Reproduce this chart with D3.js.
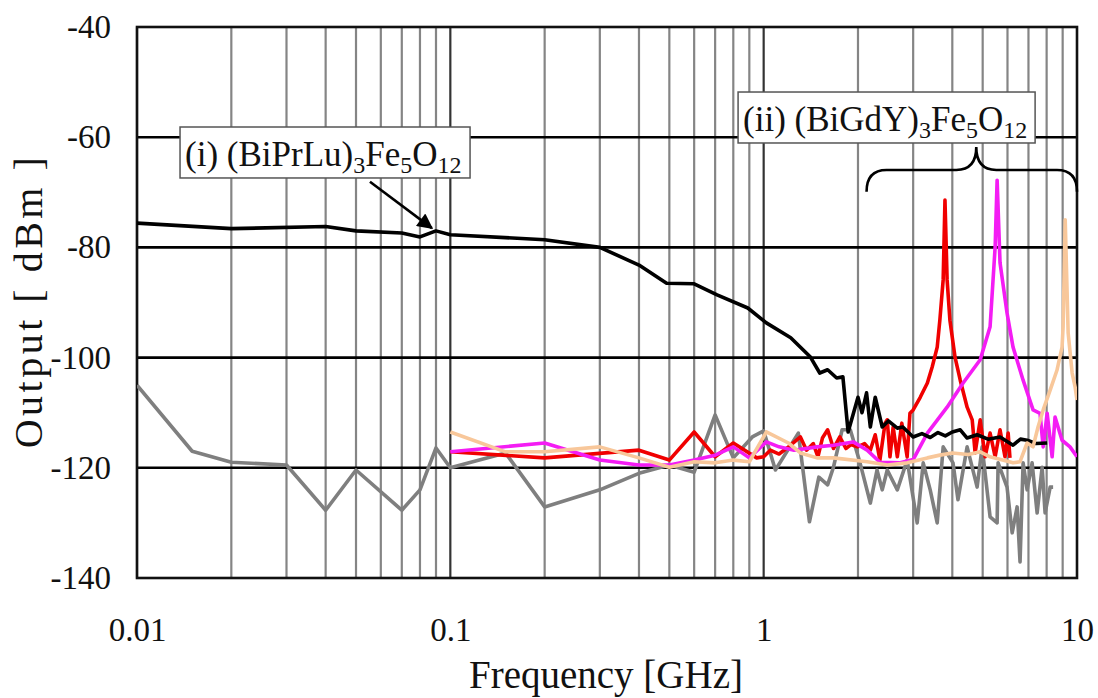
<!DOCTYPE html>
<html>
<head>
<meta charset="utf-8">
<script src="https://cdn.jsdelivr.net/npm/d3@7"></script>
<style>
  body { margin: 0; background: #fff; }
  svg text { font-family: "Liberation Serif", "Times New Roman", serif; fill: #111; }
</style>
</head>
<body>
<div id="chart"></div>
<script>
// frequency in GHz, output in dBm
const grayFreq = [0.01, 0.015, 0.02, 0.03, 0.04, 0.05, 0.07, 0.08, 0.09, 0.1, 0.15, 0.2, 0.3, 0.4, 0.5, 0.6, 0.7, 0.8, 0.92, 1.0,
  1.09, 1.29, 1.40, 1.50, 1.60, 1.67, 1.78, 1.89, 2.03, 2.19, 2.30, 2.39, 2.48, 2.67, 2.87, 3.09, 3.23, 3.40, 3.58, 3.74,
  4.02, 4.17, 4.46, 4.80, 4.98, 5.28, 5.56, 5.60, 5.98, 6.21, 6.44, 6.58, 6.73, 6.93, 7.19, 7.46, 7.74, 7.91, 8.21, 8.39];
const grayDb = [-105, -117, -119, -119.5, -127.7, -120.4, -127.7, -124, -116.4, -120, -117.3, -127.1, -124, -121, -119.5, -120.8, -110.4, -118.2, -114.4, -113.3,
  -120.4, -113.7, -129.8, -121.7, -123.1, -119.9, -113.1, -113.1, -119.1, -126.4, -120.4, -124, -120.4, -124, -118.6, -130, -119.1, -124, -130, -116.2,
  -119.1, -125.8, -116.2, -123.5, -116.2, -128.9, -130, -119.1, -123.5, -131.8, -127.1, -137.1, -119.1, -124, -119.1, -128.2, -119.9, -128.2, -123.5, -123.5];

const blackFreq = [0.01, 0.02, 0.04, 0.05, 0.07, 0.08, 0.09, 0.1, 0.2, 0.3, 0.4, 0.49, 0.6, 0.71, 0.89, 1.02, 1.22, 1.41, 1.51, 1.60,
  1.71, 1.79, 1.86, 2.0, 2.06, 2.13, 2.19, 2.27, 2.39, 2.50, 2.67, 2.78, 3.0, 3.2, 3.4, 3.6, 3.8, 4.0, 4.24, 4.46,
  4.8, 5.2, 5.68, 6.25, 6.6, 6.93, 7.4, 8.03];
const blackDb = [-75.6, -76.6, -76.2, -77.0, -77.4, -78.1, -77.0, -77.7, -78.6, -80.0, -83.2, -86.5, -86.6, -88.6, -91.0, -93.7, -96.4, -99.9, -102.8, -102.2,
  -103.7, -103.5, -113.5, -107.2, -110, -106.4, -112.6, -107.2, -112.6, -111.5, -112.8, -112.6, -114.4, -113.8, -114.5, -113.6, -114.2, -113.5, -113.1, -114.6,
  -114.0, -114.8, -114.4, -115.9, -114.8, -115, -115.6, -115.5];

const redFreq = [0.1, 0.2, 0.4, 0.5, 0.6, 0.7, 0.8, 0.95, 1.0, 1.05, 1.12, 1.2, 1.31, 1.37, 1.44, 1.49, 1.54, 1.60, 1.67, 1.75,
  1.83, 1.90, 1.99, 2.1, 2.19, 2.27, 2.35, 2.44, 2.48, 2.53, 2.59, 2.67, 2.76, 2.87, 2.93, 3.0, 3.16, 3.33, 3.45, 3.58,
  3.65, 3.74, 3.79, 3.85, 3.93, 4.08, 4.24, 4.46, 4.63, 4.73, 4.91, 5.09, 5.28, 5.48, 5.68, 5.89, 6.03, 6.11];
const redDb = [-117.1, -118.2, -116.8, -118.6, -113.5, -118, -115.5, -118.2, -118.0, -116.8, -117.5, -116.2, -114.4, -116.8, -115.6, -118.0, -114.6, -113.1, -116.5, -114.4,
  -116.5, -115.8, -116.2, -115.6, -116.8, -114.0, -118.6, -111.9, -111.3, -118.0, -112.6, -118.0, -111.9, -118.0, -110.1, -109.5, -107.2, -104.6, -101.7, -98.1,
  -93.2, -85.9, -71.4, -85.9, -93.2, -99.9, -104.1, -109.0, -111.3, -117.3, -111.3, -118.0, -113.7, -118.0, -113.1, -118.0, -113.7, -118.2];

const magentaFreq = [0.1, 0.2, 0.3, 0.4, 0.5, 0.6, 0.7, 0.8, 0.9, 1.02, 1.12, 1.25, 1.48, 1.67, 1.93, 2.14, 2.35, 2.73, 3.0, 3.33,
  3.85, 4.33, 4.91, 5.28, 5.48, 5.56, 5.68, 5.98, 6.25, 6.73, 7.24, 7.62, 7.80, 8.03, 8.33, 8.51, 8.96, 9.50, 10];
const magentaDb = [-117.1, -115.5, -118.6, -119.5, -119.5, -118.6, -117.7, -116.2, -118.2, -115.3, -116.2, -116.8, -116.2, -115.9, -115.3, -116.8, -119.0, -119.1, -118.5, -113.7,
  -109.0, -104.6, -100.4, -94.4, -79.9, -67.8, -82.8, -91.9, -98.1, -104.1, -109.5, -110.1, -116.2, -110.1, -118.0, -110.8, -115.0, -116.2, -118];

const peachFreq = [0.1, 0.15, 0.2, 0.3, 0.4, 0.5, 0.6, 0.7, 0.8, 0.9, 1.02, 1.2, 1.31, 1.48, 1.67, 2.14, 2.48, 2.87, 3.33, 3.65,
  4.0, 4.5, 4.91, 5.28, 6.25, 6.58, 6.93, 7.24, 7.51, 7.80, 8.21, 8.63, 8.96, 9.03, 9.17, 9.37, 9.65, 9.86, 10];
const peachDb = [-113.5, -117.1, -117.1, -116.2, -118.2, -119.9, -118.9, -119.1, -118.6, -118.9, -113.5, -115.5, -117.3, -118.2, -118.2, -118.9, -119.5, -119.1, -118.2, -117.7,
  -117.3, -117.6, -117.1, -118, -119.1, -118.9, -115.5, -116.2, -112.6, -109.5, -105.9, -102.3, -98.1, -94.4, -75.0, -95.5, -102.8, -105.3, -107.7];

const xTicks = [0.01, 0.1, 1, 10];
const xTickLabels = ['0.01', '0.1', '1', '10'];
const yTicks = [-40, -60, -80, -100, -120, -140];

const series = [
  {name: 'reference', color: '#7f7f7f', freq: grayFreq, db: grayDb},
  {name: 'red', color: '#f00000', freq: redFreq, db: redDb},
  {name: 'magenta', color: '#f41cf4', freq: magentaFreq, db: magentaDb},
  {name: '(i)', color: '#000000', freq: blackFreq, db: blackDb},
  {name: 'peach', color: '#f8c79a', freq: peachFreq, db: peachDb}
];

class SpectrumPlot {
  constructor(_config) {
    this.config = {
      parentElement: _config.parentElement,
      containerWidth: _config.containerWidth || 1098,
      containerHeight: _config.containerHeight || 698,
      margin: _config.margin || {top: 27, right: 21, bottom: 120, left: 137}
    };
    this.initVis();
    this.renderVis();
  }

  initVis() {
    let vis = this;
    vis.width = vis.config.containerWidth - vis.config.margin.left - vis.config.margin.right;
    vis.height = vis.config.containerHeight - vis.config.margin.top - vis.config.margin.bottom;

    vis.svg = d3.select(vis.config.parentElement).append('svg')
      .attr('width', vis.config.containerWidth)
      .attr('height', vis.config.containerHeight);

    vis.chart = vis.svg.append('g')
      .attr('transform', `translate(${vis.config.margin.left},${vis.config.margin.top})`);

    vis.xScale = d3.scaleLog().domain([0.01, 10]).range([0, vis.width]);
    vis.yScale = d3.scaleLinear().domain([-140, -40]).range([vis.height, 0]);

    const defs = vis.svg.append('defs');
    defs.append('clipPath').attr('id', 'plot-clip')
      .append('rect').attr('width', vis.width).attr('height', vis.height);

    defs.append('marker')
      .attr('id', 'arrowhead')
      .attr('viewBox', '0 0 10 10')
      .attr('refX', 9).attr('refY', 5)
      .attr('markerWidth', 7).attr('markerHeight', 6)
      .attr('markerUnits', 'strokeWidth')
      .attr('orient', 'auto')
      .append('path').attr('d', 'M0,0 L10,5 L0,10 z').attr('fill', '#000');
  }

  renderVis() {
    let vis = this;

    // vertical grid: every 1..9 x decade
    const minor = [];
    [0.01, 0.1, 1].forEach(dec => d3.range(1, 10).forEach(k => minor.push(dec * k)));
    vis.chart.append('g').selectAll('line').data(minor).join('line')
      .attr('x1', d => vis.xScale(d)).attr('x2', d => vis.xScale(d))
      .attr('y1', 0).attr('y2', vis.height)
      .attr('stroke', d => (Math.abs(d - 0.1) < 1e-9 || Math.abs(d - 1) < 1e-9) ? '#333' : '#858585')
      .attr('stroke-width', 2.2);

    vis.chart.append('g').selectAll('line').data(yTicks.slice(1, -1)).join('line')
      .attr('x1', 0).attr('x2', vis.width)
      .attr('y1', d => vis.yScale(d)).attr('y2', d => vis.yScale(d))
      .attr('stroke', '#000').attr('stroke-width', 2.6);

    vis.chart.append('rect')
      .attr('width', vis.width).attr('height', vis.height)
      .attr('fill', 'none').attr('stroke', '#111').attr('stroke-width', 2.6);

    // axes
    vis.xAxis = d3.axisBottom(vis.xScale).tickValues(xTicks)
      .tickFormat((d, i) => xTickLabels[i]).tickSize(0).tickPadding(40);
    vis.yAxis = d3.axisLeft(vis.yScale).tickValues(yTicks)
      .tickFormat(d => String(d)).tickSize(0).tickPadding(26);

    vis.chart.append('g').attr('transform', `translate(0,${vis.height})`).call(vis.xAxis)
      .call(g => g.select('.domain').remove())
      .selectAll('text').attr('font-size', 33).attr('font-family', '"Liberation Serif", serif').attr('fill', '#111');
    vis.chart.append('g').call(vis.yAxis)
      .call(g => g.select('.domain').remove())
      .selectAll('text').attr('font-size', 33).attr('font-family', '"Liberation Serif", serif').attr('fill', '#111');

    vis.svg.append('text')
      .attr('x', vis.config.margin.left + vis.width / 2 - 1).attr('y', 688)
      .attr('text-anchor', 'middle').attr('font-size', 39)
      .text('Frequency [GHz]');
    vis.svg.append('text')
      .attr('transform', 'translate(42,301) rotate(-90)')
      .attr('text-anchor', 'middle').attr('font-size', 40)
      .attr('letter-spacing', 3.5)
      .attr('xml:space', 'preserve')
      .text('Output [ dBm ]');

    // data lines
    const line = d3.line()
      .x(d => vis.xScale(d[0]))
      .y(d => vis.yScale(d[1]));
    vis.chart.append('g').attr('clip-path', 'url(#plot-clip)')
      .selectAll('path').data(series).join('path')
      .attr('d', s => line(d3.zip(s.freq, s.db)))
      .attr('fill', 'none')
      .attr('stroke', s => s.color)
      .attr('stroke-width', 3.6)
      .attr('stroke-linejoin', 'round');

    vis.renderAnnotations();
  }

  renderAnnotations() {
    let vis = this;
    const x = vis.xScale, y = vis.yScale;

    // label (i) with arrow to the black curve
    vis.addLabel(x(0.01372), y(-58.15), x(0.1156) - x(0.01372), y(-67.4) - y(-58.15),
      '(i) (BiPrLu)', [['3', 'Fe'], ['5', 'O'], ['12', '']]);
    vis.chart.append('line')
      .attr('x1', x(0.0554)).attr('y1', y(-68.1))
      .attr('x2', x(0.0873)).attr('y2', y(-76.5))
      .attr('stroke', '#000').attr('stroke-width', 2.6)
      .attr('marker-end', 'url(#arrowhead)');

    // label (ii)
    vis.addLabel(x(0.8286), y(-51.8), x(7.35) - x(0.8286), y(-61.05) - y(-51.8),
      '(ii) (BiGdY)', [['3', 'Fe'], ['5', 'O'], ['12', '']]);

    // curly brace over the (ii) peaks
    const bx0 = x(2.13), bx1 = x(10), bc = x(4.77);
    const by = y(-65.95), bEnd = y(-69.9), bTip = y(-61.8);
    const r = 20;
    const d = `M${bx0},${bEnd} Q${bx0},${by} ${bx0 + r},${by} L${bc - r},${by} Q${bc},${by} ${bc},${bTip}` +
      ` Q${bc},${by} ${bc + r},${by} L${bx1 - r},${by} Q${bx1},${by} ${bx1},${bEnd}`;
    vis.chart.append('path').attr('d', d)
      .attr('fill', 'none').attr('stroke', '#000').attr('stroke-width', 2.6);
  }

  addLabel(bx, byTop, bw, bh, head, parts) {
    let vis = this;
    const g = vis.chart.append('g');
    g.append('rect')
      .attr('x', bx).attr('y', byTop).attr('width', bw).attr('height', bh)
      .attr('fill', '#fff').attr('stroke', '#555').attr('stroke-width', 1.5);
    const t = g.append('text')
      .attr('x', bx + 5).attr('y', byTop + bh - 12)
      .attr('font-size', 35);
    t.append('tspan').text(head);
    parts.forEach(p => {
      t.append('tspan').attr('dy', 7).attr('font-size', 24).text(p[0]);
      if (p[1]) t.append('tspan').attr('dy', -7).attr('font-size', 35).text(p[1]);
    });
  }
}

new SpectrumPlot({parentElement: '#chart'});
</script>
</body>
</html>
